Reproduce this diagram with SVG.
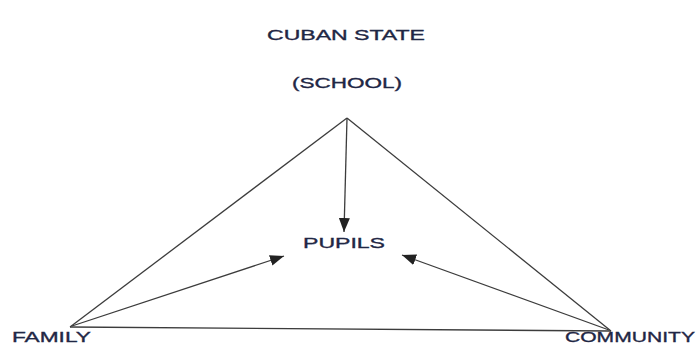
<svg xmlns="http://www.w3.org/2000/svg" width="697" height="344" viewBox="0 0 697 344">
<defs>
<style>
.lbl{font-family:"Liberation Sans",Arial,sans-serif;font-size:15px;fill:#1f2745;stroke:#1f2745;stroke-width:0.35;}
.ln{stroke:#3c3c3c;stroke-width:1.3;fill:none;}
</style>
<marker id="ah" markerUnits="userSpaceOnUse" markerWidth="15" markerHeight="11" refX="14" refY="5.5" orient="auto">
<path d="M0,0 L14,5.5 L0,11 Z" fill="#222222"/>
</marker>
</defs>
<rect width="697" height="344" fill="#ffffff"/>
<g id="connectors">
<line class="ln" x1="347" y1="118" x2="70" y2="327"/>
<line class="ln" x1="347" y1="118" x2="611" y2="331"/>
<line class="ln" x1="70" y1="327" x2="611" y2="331"/>
<line class="ln" x1="347" y1="118" x2="344" y2="232" marker-end="url(#ah)"/>
<line class="ln" x1="72" y1="326" x2="284" y2="256" marker-end="url(#ah)"/>
<line class="ln" x1="609" y1="330" x2="402" y2="255" marker-end="url(#ah)"/>
</g>
<g id="cuban-state">
<text class="lbl" x="267" y="40" textLength="158" lengthAdjust="spacingAndGlyphs">CUBAN STATE</text>
<text class="lbl" x="292" y="88" textLength="110" lengthAdjust="spacingAndGlyphs">(SCHOOL)</text>
</g>
<g id="pupils">
<text class="lbl" x="303" y="248" textLength="82" lengthAdjust="spacingAndGlyphs">PUPILS</text>
</g>
<g id="family">
<text class="lbl" x="12" y="342" textLength="79" lengthAdjust="spacingAndGlyphs">FAMILY</text>
</g>
<g id="community">
<text class="lbl" x="565" y="342" textLength="130" lengthAdjust="spacingAndGlyphs">COMMUNITY</text>
</g>
</svg>
